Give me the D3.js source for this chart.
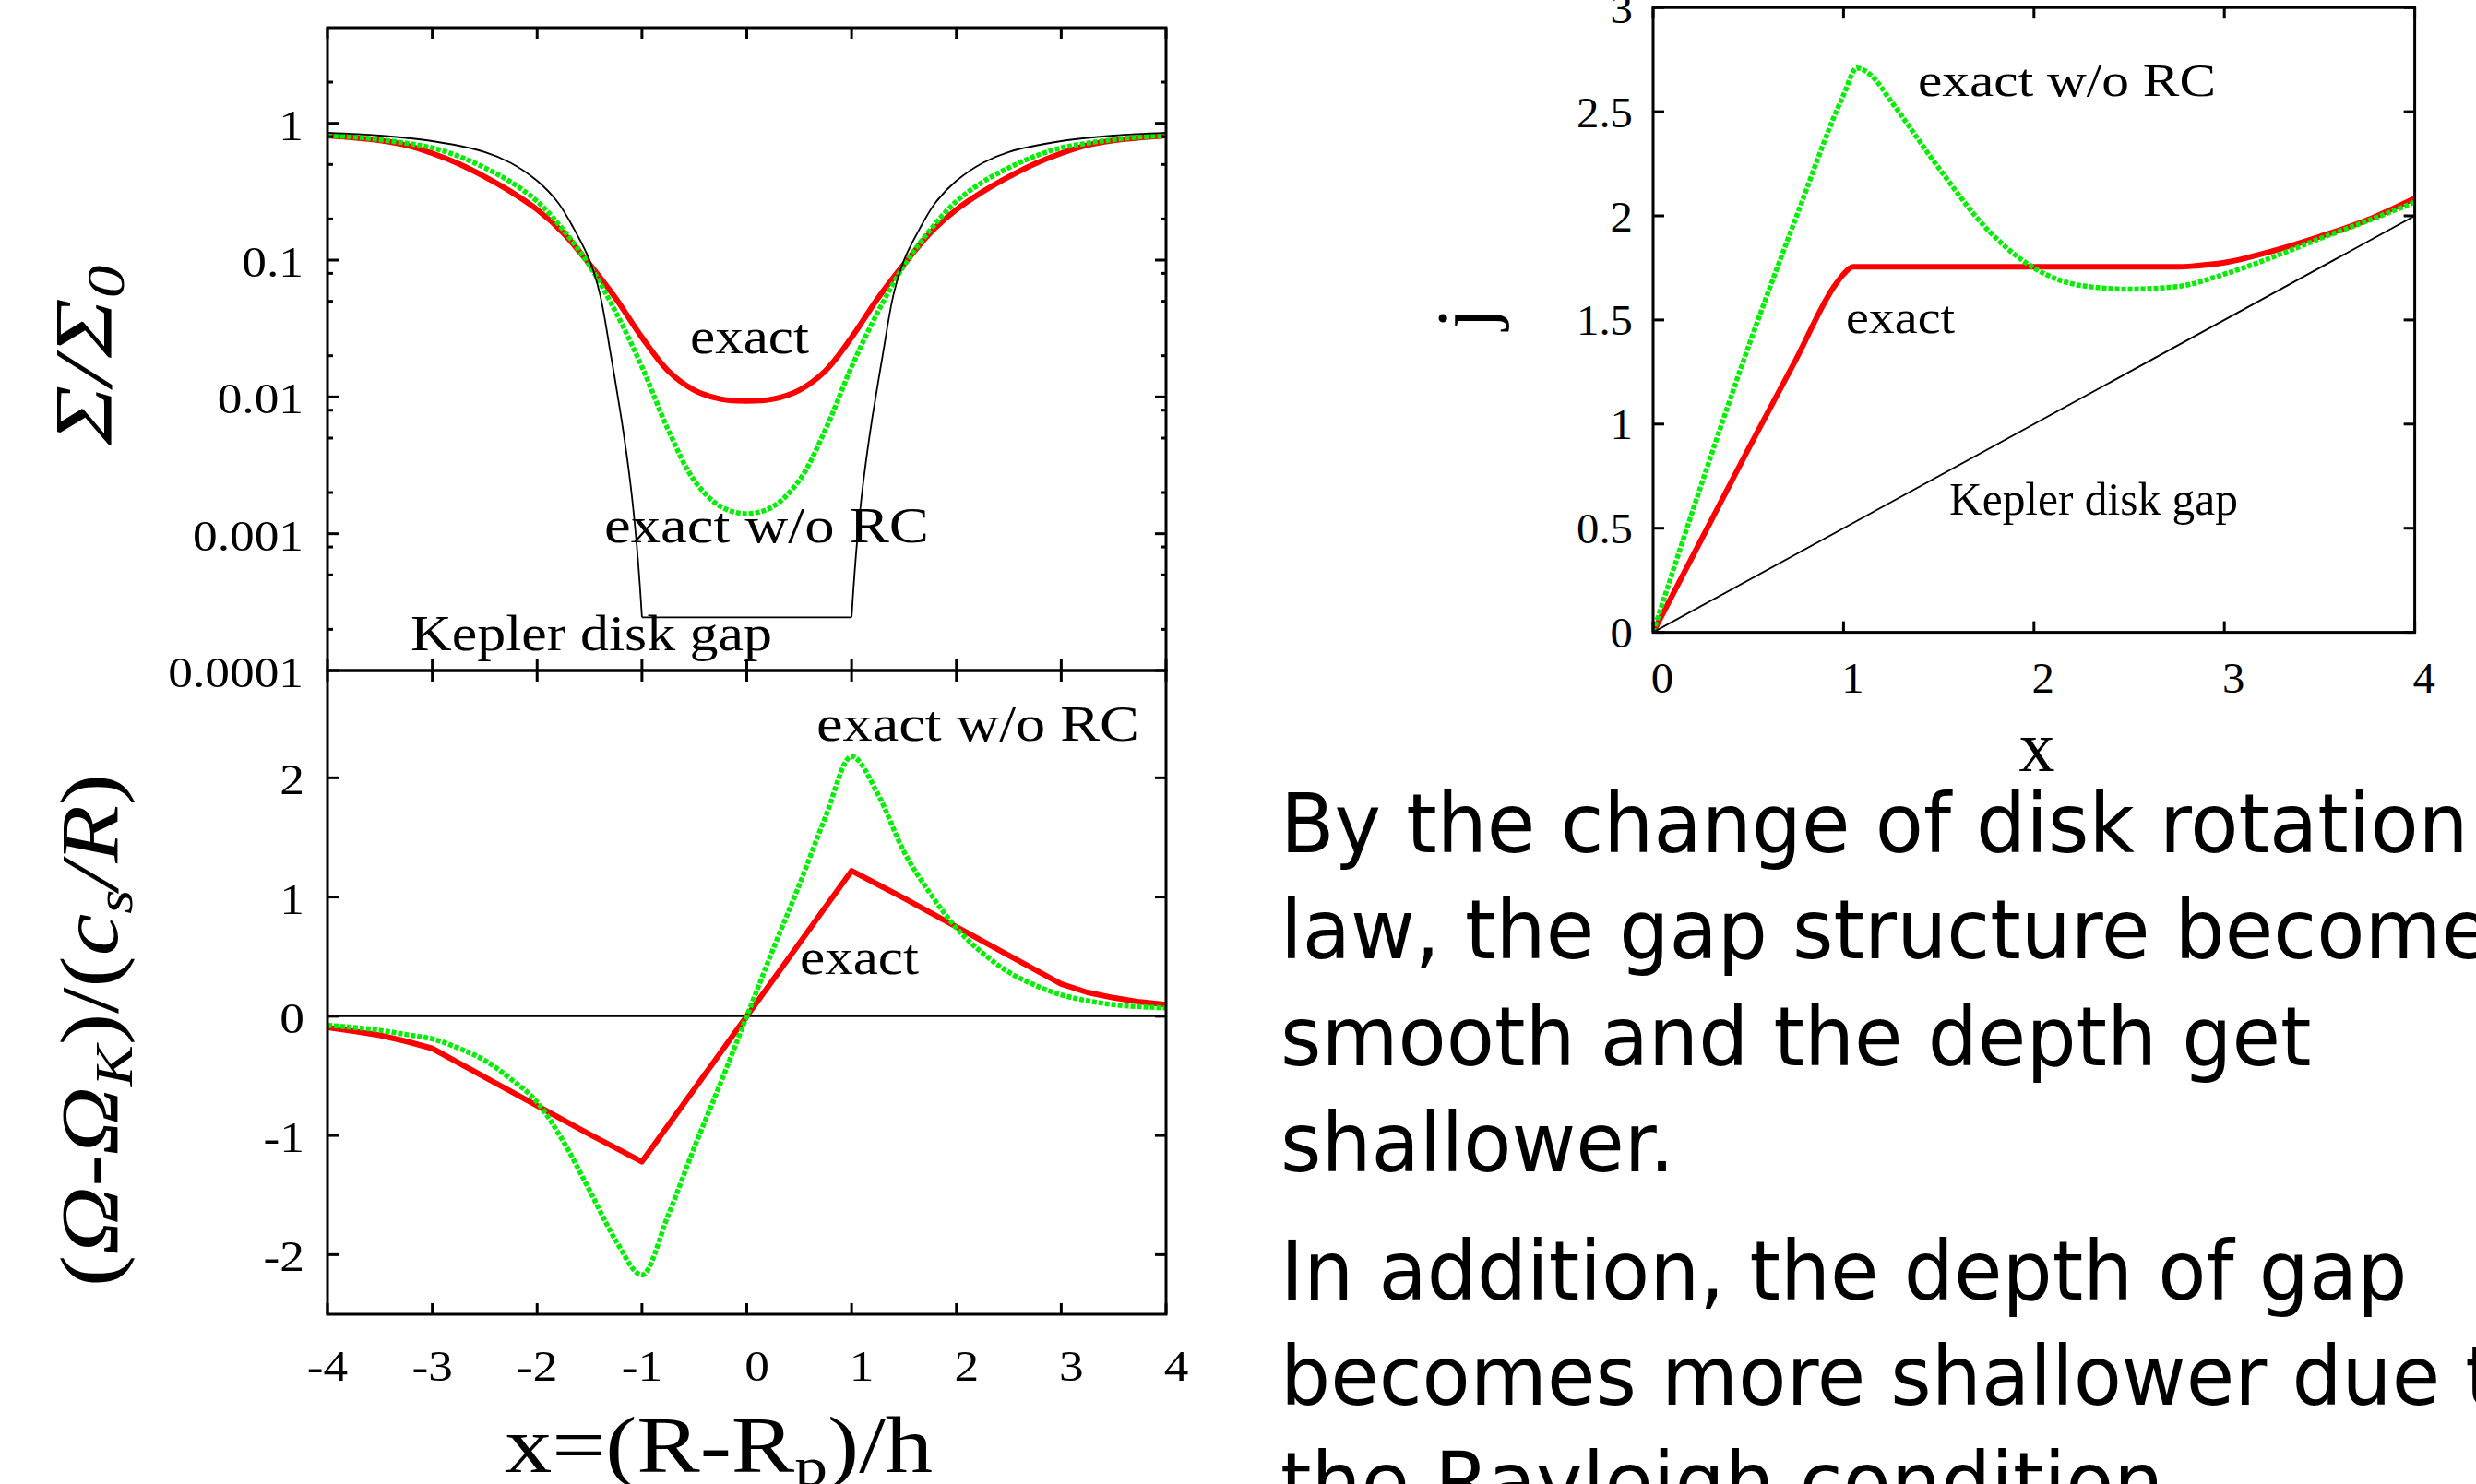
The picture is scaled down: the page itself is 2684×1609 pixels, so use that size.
<!DOCTYPE html>
<html><head><meta charset="utf-8">
<script src="https://cdn.jsdelivr.net/npm/d3@7"></script>
<style>html,body{margin:0;padding:0;background:#fff;overflow:hidden}</style>
</head><body>
<svg id="c" width="2684" height="1609" xmlns="http://www.w3.org/2000/svg"></svg>
<script>
// ---------------- DATA ----------------
const sigmaX = [-4,-3.75,-3.5,-3.25,-3,-2.75,-2.5,-2.25,-2,-1.75,-1.5,-1.25,-1,-0.75,-0.5,-0.25,0,
                 0.25,0.5,0.75,1,1.25,1.5,1.75,2,2.25,2.5,2.75,3,3.25,3.5,3.75,4];
const sigmaExact = [0.813,0.785,0.750,0.692,0.603,0.507,0.407,0.316,0.234,0.158,0.0933,0.0525,0.0272,0.0155,0.0112,0.00965,0.00933,
                    0.00965,0.0112,0.0155,0.0272,0.0525,0.0933,0.158,0.234,0.316,0.407,0.507,0.603,0.692,0.750,0.785,0.813];
const sigmaNoRC = [0.813,0.794,0.759,0.716,0.661,0.575,0.473,0.372,0.269,0.166,0.0912,0.0417,0.0166,0.00575,0.00245,0.00158,0.0014,
                   0.00158,0.00245,0.00575,0.0166,0.0417,0.0912,0.166,0.269,0.372,0.473,0.575,0.661,0.716,0.759,0.794,0.813];
const keplerSigmaX = [-4,-3.5,-3,-2.5,-2.25,-2,-1.8,-1.65,-1.5,-1.4,-1.3,-1.2,-1.15,-1.1,-1.05,-1.02,-1,
                      1,1.02,1.05,1.1,1.15,1.2,1.3,1.4,1.5,1.65,1.8,2,2.25,2.5,3,3.5,4];
const keplerSigma = [0.853,0.813,0.741,0.617,0.513,0.380,0.263,0.170,0.100,0.0560,0.0209,0.00724,0.00398,0.0020,0.00083,0.00042,0.000245,
                     0.000245,0.00042,0.00083,0.0020,0.00398,0.00724,0.0209,0.0560,0.100,0.170,0.263,0.380,0.513,0.617,0.741,0.813,0.853];

const omegaX = sigmaX;
const omegaExact = [-0.094,-0.125,-0.16,-0.21,-0.27,-0.39,-0.51,-0.63,-0.75,-0.87,-0.99,-1.105,-1.22,-0.915,-0.61,-0.305,0,
                    0.305,0.61,0.915,1.22,1.105,0.99,0.87,0.75,0.63,0.51,0.39,0.27,0.20,0.155,0.12,0.097];
const omegaNoRC = [-0.076,-0.094,-0.118,-0.153,-0.19,-0.267,-0.37,-0.527,-0.72,-1.05,-1.46,-1.88,-2.17,-1.67,-1.1,-0.56,0,
                   0.56,1.1,1.67,2.18,1.865,1.38,1.03,0.74,0.53,0.37,0.26,0.18,0.13,0.097,0.08,0.07];
const omegaKeplerX = [-4,4];
const omegaKepler = [0,0];

const jExactX = [0,0.25,0.5,0.75,0.95,1.0,1.05,1.25,1.5,1.75,2,2.25,2.5,2.75,2.85,3,3.25,3.5,3.75,4];
const jExact  = [0,0.44,0.88,1.31,1.66,1.72,1.755,1.755,1.755,1.755,1.755,1.755,1.755,1.755,1.76,1.775,1.83,1.90,1.98,2.085];
const jNoRCX = [0,0.25,0.5,0.75,1.0,1.07,1.15,1.25,1.5,1.75,2,2.25,2.5,2.75,3,3.25,3.5,3.75,4];
const jNoRC  = [0,0.70,1.37,1.99,2.58,2.71,2.67,2.55,2.23,1.94,1.75,1.665,1.648,1.66,1.72,1.80,1.89,1.975,2.065];
const jKeplerX = [0,4];
const jKepler  = [0,2];

const xTicksLeft = [-4,-3,-2,-1,0,1,2,3,4];
const xTickLabelsLeft = ["-4","-3","-2","-1","0","1","2","3","4"];
const sigmaTicks = [1,0.1,0.01,0.001,0.0001];
const sigmaTickLabels = ["1","0.1","0.01","0.001","0.0001"];
const sigmaMinor = [2,0.8,0.5,0.2,0.08,0.05,0.02,0.008,0.005,0.002,0.0008,0.0005,0.0002];
const omegaTicks = [-2,-1,0,1,2];
const omegaTickLabels = ["-2","-1","0","1","2"];
const jXTicks = [0,1,2,3,4];
const jXTickLabels = ["0","1","2","3","4"];
const jYTicks = [0,0.5,1,1.5,2,2.5,3];
const jYTickLabels = ["0","0.5","1","1.5","2","2.5","3"];

const paragraphLines = [
  "By the change of disk rotation",
  "law, the gap structure becomes",
  "smooth and the depth get",
  "shallower.",
  "In addition, the depth of gap",
  "becomes more shallower due to",
  "the Rayleigh condition."
];

// ---------------- DRAWING ----------------
const svg = d3.select('#c');
const SERIF = "'Liberation Serif','Times New Roman',serif";
const RED = "#ff0000", GREEN = "#00f000";

const xL = d3.scaleLinear().domain([-4,4]).range([355,1264]);
const ySig = d3.scaleLog().domain([1e-4,5]).range([727,30]);
const yOm = d3.scaleLinear().domain([-2.5,2.9]).range([1425,727]);
const xR = d3.scaleLinear().domain([0,4]).range([1792,2617.6]);
const yR = d3.scaleLinear().domain([0,3]).range([685.6,8.2]);

const defs = svg.append('defs');
function clip(id, x0, y0, x1, y1){
  defs.append('clipPath').attr('id', id).append('rect')
    .attr('x', x0).attr('y', y0).attr('width', x1-x0).attr('height', y1-y0);
}
clip('cTop', 355, 30, 1264, 727);
clip('cBot', 355, 727, 1264, 1425);
clip('cR', 1792, 8.2, 2617.6, 685.6);

function drawLine(g, xs, ys, xs_, ys_, color, width, dash, curve){
  const pts = xs.map((x,i)=>[x, ys[i]]);
  const line = d3.line().x(d=>xs_(d[0])).y(d=>ys_(d[1])).curve(curve || d3.curveMonotoneX);
  const p = g.append('path').attr('d', line(pts)).attr('fill','none')
    .attr('stroke', color).attr('stroke-width', width)
    .attr('stroke-linejoin','round');
  if (dash) p.attr('stroke-dasharray', dash);
  return p;
}
const SMOOTH = d3.curveCatmullRom.alpha(0.5);

// ---- top-left panel ----
const gTop = svg.append('g').attr('clip-path','url(#cTop)');
drawLine(gTop, sigmaX, sigmaExact, xL, ySig, RED, 6, null, SMOOTH);
drawLine(gTop, sigmaX, sigmaNoRC, xL, ySig, GREEN, 5.5, "5 2", SMOOTH);
{
  const iL = keplerSigmaX.indexOf(-1), iR = keplerSigmaX.indexOf(1);
  drawLine(gTop, keplerSigmaX.slice(0,iL+1), keplerSigma.slice(0,iL+1), xL, ySig, "#000", 1.8, null, SMOOTH);
  drawLine(gTop, keplerSigmaX.slice(iL,iR+1), keplerSigma.slice(iL,iR+1), xL, ySig, "#000", 1.8, null, d3.curveLinear);
  drawLine(gTop, keplerSigmaX.slice(iR), keplerSigma.slice(iR), xL, ySig, "#000", 1.8, null, SMOOTH);
}

// ---- bottom-left panel ----
const gBot = svg.append('g').attr('clip-path','url(#cBot)');
drawLine(gBot, omegaKeplerX, omegaKepler, xL, yOm, "#000", 1.8, null, d3.curveLinear);
drawLine(gBot, omegaX, omegaExact, xL, yOm, RED, 6, null, d3.curveLinear);
drawLine(gBot, omegaX, omegaNoRC, xL, yOm, GREEN, 5.5, "5 2");

// ---- right panel ----
const gR = svg.append('g').attr('clip-path','url(#cR)');
drawLine(gR, jExactX, jExact, xR, yR, RED, 6);
drawLine(gR, jNoRCX, jNoRC, xR, yR, GREEN, 5.5, "5 2");
drawLine(gR, jKeplerX, jKepler, xR, yR, "#000", 1.8, null, d3.curveLinear);

// ---- frames & ticks ----
function frame(x0,y0,x1,y1){
  svg.append('rect').attr('x',x0).attr('y',y0).attr('width',x1-x0).attr('height',y1-y0)
    .attr('fill','none').attr('stroke','#000').attr('stroke-width',3);
}
function tickV(x, y0, y1){
  svg.append('line').attr('x1',x).attr('x2',x).attr('y1',y0).attr('y2',y1)
    .attr('stroke','#000').attr('stroke-width',3);
}
function tickH(y, x0, x1){
  svg.append('line').attr('y1',y).attr('y2',y).attr('x1',x0).attr('x2',x1)
    .attr('stroke','#000').attr('stroke-width',3);
}
function tickLabel(x, y, txt, anchor, size, sx){
  svg.append('text').attr('transform', `translate(${x},${y}) scale(${sx},1)`)
    .attr('text-anchor', anchor).attr('font-family', SERIF).attr('font-size', size)
    .attr('fill','#000').text(txt);
}
const TL = 12, TM = 6;
frame(355,30,1264,727);
xTicksLeft.forEach(v=>{ const x=xL(v); tickV(x,30,30+TL); tickV(x,727-TL,727); });
sigmaTicks.forEach(v=>{ const y=ySig(v); tickH(y,355,355+TL); tickH(y,1264-TL,1264); });
sigmaMinor.forEach(v=>{ const y=ySig(v); tickH(y,355,355+TM); tickH(y,1264-TM,1264); });
sigmaTicks.forEach((v,i)=> tickLabel(329, ySig(v)+18, sigmaTickLabels[i], 'end', 46, 1.16));

frame(355,727,1264,1425);
xTicksLeft.forEach(v=>{ const x=xL(v); tickV(x,727,727+TL); tickV(x,1425-TL,1425); });
omegaTicks.forEach(v=>{ const y=yOm(v); tickH(y,355,355+TL); tickH(y,1264-TL,1264); });
omegaTicks.forEach((v,i)=> tickLabel(330, yOm(v)+18, omegaTickLabels[i], 'end', 46, 1.16));
xTicksLeft.forEach((v,i)=>{
  const lab = xTickLabelsLeft[i];
  tickLabel(xL(v) + (lab[0]==='-'?0:11), 1497, lab, 'middle', 46, 1.16);
});

frame(1792,8.2,2617.6,685.6);
jXTicks.forEach(v=>{ const x=xR(v); tickV(x,8.2,8.2+TL); tickV(x,685.6-TL,685.6); });
jYTicks.forEach(v=>{ const y=yR(v); tickH(y,1792,1792+TL); tickH(y,2617.6-TL,2617.6); });
jYTicks.forEach((v,i)=> tickLabel(1770, yR(v)+16.5, jYTickLabels[i], 'end', 46, 1.06));
jXTicks.forEach((v,i)=> tickLabel(xR(v)+10, 751, jXTickLabels[i], 'middle', 46, 1.06));

// ---- annotations ----
function annot(x, y, txt, w, size){
  svg.append('text').attr('x',x).attr('y',y).attr('font-family',SERIF).attr('font-size',size)
    .attr('textLength', w).attr('lengthAdjust','spacingAndGlyphs').attr('fill','#000').text(txt);
}
annot(748, 383, "exact", 129, 54);
annot(655, 588, "exact w/o RC", 352, 54);
annot(445, 705, "Kepler disk gap", 392, 54);
annot(885, 803, "exact w/o RC", 350, 54);
annot(867, 1056, "exact", 129, 54);
annot(2079, 104, "exact w/o RC", 323, 50);
annot(2001, 361, "exact", 118, 50);
annot(2113, 558, "Kepler disk gap", 313, 50);

// ---- axis labels ----
function fitted(parent, x, y, rot, target, size, build){
  const t = parent.append('text').attr('font-family',SERIF).attr('font-size',size)
    .attr('text-anchor','middle').attr('fill','#000');
  build(t);
  const w = t.node().getBBox().width;
  const k = target ? target / w : 1;
  t.attr('transform', `translate(${x},${y}) rotate(${rot}) scale(${k},1)`);
  return t;
}
fitted(svg, 120, 385, -90, 196, 88, t=>{
  t.append('tspan').attr('font-style','italic').text('Σ/Σ');
  t.append('tspan').attr('font-style','italic').attr('font-size',58).attr('dy',14).text('0');
});
fitted(svg, 127, 1117, -90, 556, 88, t=>{
  t.append('tspan').text('(');
  t.append('tspan').attr('font-style','italic').text('Ω');
  t.append('tspan').text('-');
  t.append('tspan').attr('font-style','italic').text('Ω');
  t.append('tspan').attr('font-style','italic').attr('font-size',58).attr('dy',16).text('K');
  t.append('tspan').attr('dy',-16).text(')/(');
  t.append('tspan').attr('font-style','italic').text('c');
  t.append('tspan').attr('font-style','italic').attr('font-size',58).attr('dy',16).text('s');
  t.append('tspan').attr('dy',-16).attr('font-style','italic').text('/R');
  t.append('tspan').text(')');
});
fitted(svg, 779, 1596, 0, 464, 86, t=>{
  t.append('tspan').text('x=(R-R');
  t.append('tspan').attr('font-size',60).attr('dy',14).text('p');
  t.append('tspan').attr('dy',-14).text(')/h');
});
fitted(svg, 2208, 836, 0, null, 78, t=>{ t.text('x'); });
fitted(svg, 1617, 345, -90, null, 86, t=>{ t.text('j'); });

// ---- paragraph text ----
const SANS = "'DejaVu Sans','Noto Sans',sans-serif";
const lineY = [924, 1039, 1155, 1270, 1409, 1523, 1638];
const probe = svg.append('text').attr('font-family',SANS).attr('font-size',89).text(paragraphLines[0]);
const kPara = 1288 / probe.node().getComputedTextLength();
probe.remove();
paragraphLines.forEach((s,i)=>{
  svg.append('text').attr('transform', `translate(1388,${lineY[i]}) scale(${kPara},1)`)
    .attr('font-family',SANS).attr('font-size',89).attr('fill','#000').text(s);
});
</script>
</body></html>
